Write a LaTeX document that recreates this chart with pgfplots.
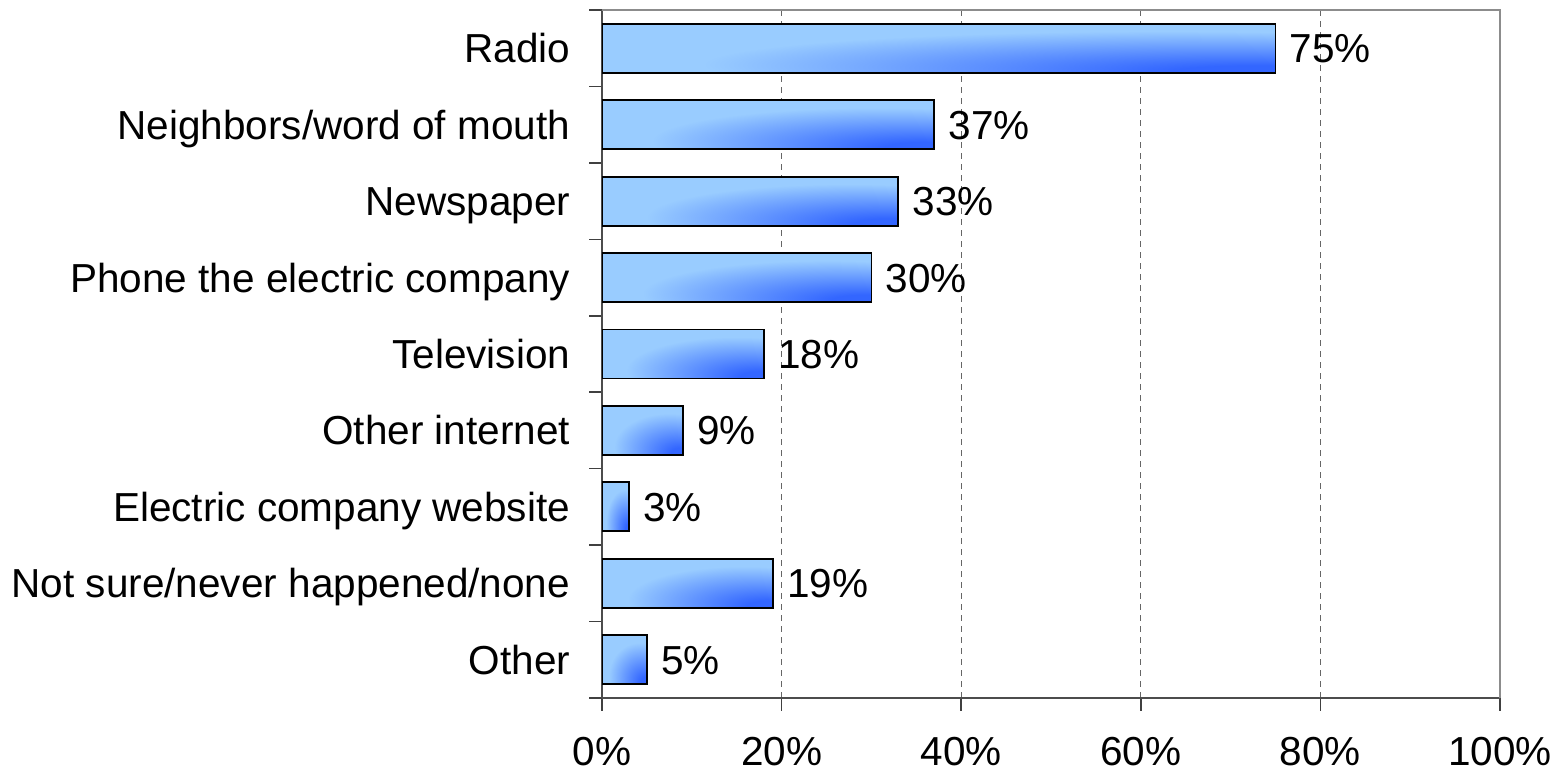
\documentclass[border=0pt]{standalone}
\usepackage{pgfplots}
\pgfplotsset{compat=1.18}
\usepackage{fontspec}
\setmainfont{Liberation Sans}
\definecolor{lightb}{RGB}{153,204,255}
\definecolor{darkb}{RGB}{51,102,255}
\pgfdeclareradialshading{barshade}{\pgfpoint{25bp}{-25bp}}{color(0bp)=(darkb); color(6bp)=(darkb); color(34bp)=(lightb); color(100bp)=(lightb)}
\pgfplotsset{barsty/.style={draw=black, line width=0.9pt, shade, shading=barshade}}
\begin{document}
\fontsize{20.25}{24}\selectfont
\begin{tikzpicture}
\useasboundingbox (0,0) rectangle (780.5pt,387.5pt);
\begin{axis}[
  name=ax,
  at={(301pt,38.5pt)}, anchor=south west,
  scale only axis, width=449pt, height=344pt,
  xmin=0, xmax=100, ymin=-0.5, ymax=8.5,
  xbar, bar width=24.5pt, bar shift=0pt,
  axis x line*=bottom, axis y line*=left,
  axis line style={-, black!70, line width=0.8pt},
  tick align=outside, major tick length=6.5pt,
  tick style={black!75, line width=0.8pt},
  xtick={0,20,40,60,80,100},
  xticklabels={0\%,20\%,40\%,60\%,80\%,100\%},
  xticklabel style={yshift=-6pt},
  ytick={-0.5,0.5,1.5,2.5,3.5,4.5,5.5,6.5,7.5,8.5},
  yticklabels={},
  extra y ticks={0,1,2,3,4,5,6,7,8},
  extra y tick labels={Other\ ,Not sure/never happened/none,Electric company website,Other internet,Television,Phone the electric company,Newspaper,Neighbors/word of mouth,Radio},
  extra y tick style={major tick length=0pt, yticklabel style={anchor=base east, yshift=-0.358em, xshift=-9pt}},
  xmajorgrids,
  grid style={black!60, dash pattern=on 3pt off 2.5pt, line width=0.5pt},
  /pgf/number format/assume math mode=true,
  point meta=x,
  nodes near coords={\pgfmathprintnumber{\pgfplotspointmeta}\%},
  nodes near coords align={horizontal},
  every node near coord/.append style={anchor=base west, yshift=-0.358em, black},
]
\addplot[barsty] coordinates {(5,0)};
\addplot[barsty] coordinates {(19,1)};
\addplot[barsty] coordinates {(3,2)};
\addplot[barsty] coordinates {(9,3)};
\addplot[barsty] coordinates {(18,4)};
\addplot[barsty] coordinates {(30,5)};
\addplot[barsty] coordinates {(33,6)};
\addplot[barsty] coordinates {(37,7)};
\addplot[barsty] coordinates {(75,8)};
\end{axis}
\draw[black!45, line width=0.8pt] (ax.north west) -- (ax.north east) -- (ax.south east);
\end{tikzpicture}
\end{document}
